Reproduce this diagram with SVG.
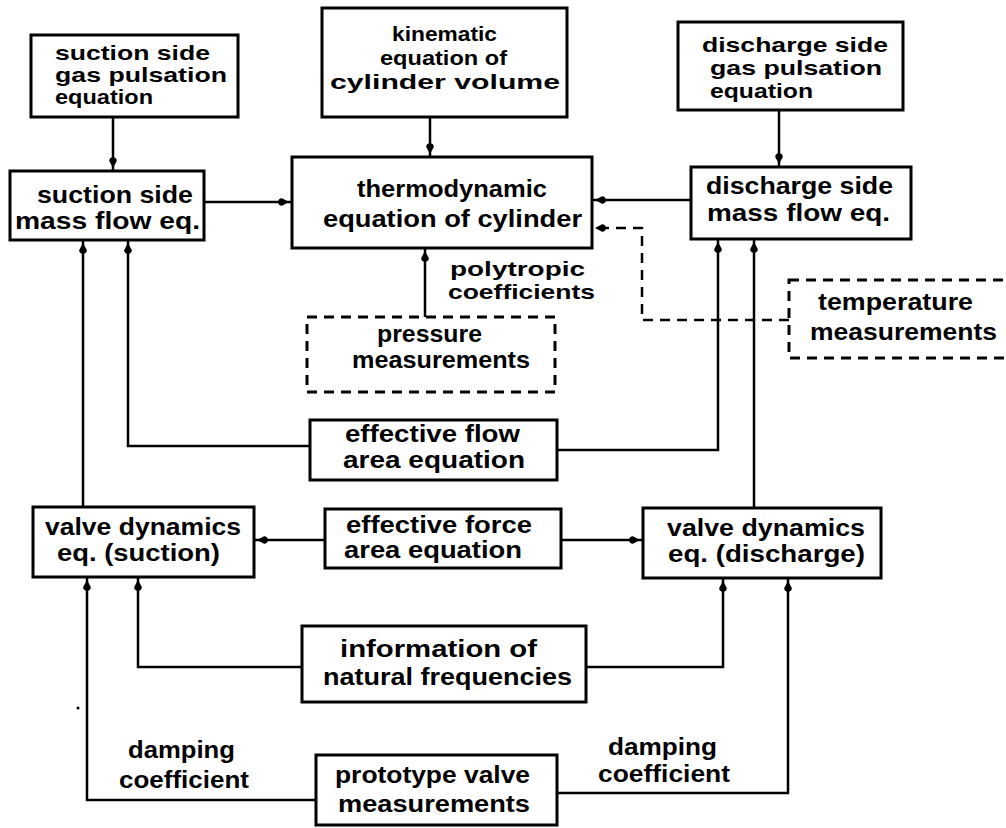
<svg xmlns="http://www.w3.org/2000/svg" width="1006" height="828" viewBox="0 0 1006 828">
<style>
.box{fill:#fff;stroke:#000;stroke-width:3}
.dbox{fill:#fff;stroke:#000;stroke-width:3;stroke-dasharray:10 7}
.c{fill:none;stroke:#000;stroke-width:2.5;marker-end:url(#ah)}
.cd{fill:none;stroke:#000;stroke-width:2.5;stroke-dasharray:10 7;marker-end:url(#ah)}
text{font-family:"Liberation Sans",Arial,sans-serif;font-weight:bold;font-size:23px;fill:#000}
.s{font-size:21px}
</style>
<defs>
<marker id="ah" markerUnits="userSpaceOnUse" markerWidth="16" markerHeight="10" viewBox="0 0 16 10" refX="16" refY="5" orient="auto">
<path d="M13,5 L6,1.2 A3.8,3.8 0 0 0 6,8.8 Z" fill="#000"/>
</marker>
</defs>
<rect width="1006" height="828" fill="#fff"/>
<g id="connectors">
<path class="c" d="M113,117 V171"/>
<path class="c" d="M430,117 V157"/>
<path class="c" d="M779,110 V167"/>
<path class="c" d="M204,202 H292"/>
<path class="c" d="M691,200 H592"/>
<path class="cd" d="M789,320 H642 V228 H592"/>
<path class="c" d="M425,317 V248"/>
<path class="c" d="M310,446 H128 V240"/>
<path class="c" d="M557,450 H718 V239"/>
<path class="c" d="M83,507 V240"/>
<path class="c" d="M754,508 V239"/>
<path class="c" d="M325,540 H254"/>
<path class="c" d="M561,540 H643"/>
<path class="c" d="M302,667 H138 V577"/>
<path class="c" d="M586,667 H723 V578"/>
<path class="c" d="M316,800 H87 V577"/>
<path class="c" d="M557,793 H788 V578"/>
</g>
<g id="suction-gas-pulsation">
<rect class="box" x="31" y="35" width="207" height="82"/>
<text class="s" x="55" y="60" textLength="155" lengthAdjust="spacingAndGlyphs">suction side</text>
<text class="s" x="55" y="82" textLength="172" lengthAdjust="spacingAndGlyphs">gas pulsation</text>
<text class="s" x="55" y="104" textLength="98" lengthAdjust="spacingAndGlyphs">equation</text>
</g>
<g id="kinematic">
<rect class="box" x="322" y="8" width="245" height="109"/>
<text class="s" x="392" y="41" textLength="105" lengthAdjust="spacingAndGlyphs">kinematic</text>
<text class="s" x="380" y="65" textLength="127" lengthAdjust="spacingAndGlyphs">equation of</text>
<text class="s" x="330" y="89" textLength="230" lengthAdjust="spacingAndGlyphs">cylinder volume</text>
</g>
<g id="discharge-gas-pulsation">
<rect class="box" x="678" y="22" width="225" height="88"/>
<text class="s" x="702" y="52" textLength="186" lengthAdjust="spacingAndGlyphs">discharge side</text>
<text class="s" x="710" y="75" textLength="172" lengthAdjust="spacingAndGlyphs">gas pulsation</text>
<text class="s" x="710" y="98" textLength="103" lengthAdjust="spacingAndGlyphs">equation</text>
</g>
<g id="suction-mass-flow">
<rect class="box" x="10" y="171" width="194" height="69"/>
<text x="37" y="203" textLength="156" lengthAdjust="spacingAndGlyphs">suction side</text>
<text x="15" y="229" textLength="185" lengthAdjust="spacingAndGlyphs">mass flow eq.</text>
</g>
<g id="thermodynamic">
<rect class="box" x="292" y="157" width="300" height="91"/>
<text x="357" y="197" textLength="190" lengthAdjust="spacingAndGlyphs">thermodynamic</text>
<text x="323" y="227" textLength="259" lengthAdjust="spacingAndGlyphs">equation of cylinder</text>
</g>
<g id="discharge-mass-flow">
<rect class="box" x="691" y="167" width="220" height="72"/>
<text x="706" y="194" textLength="187" lengthAdjust="spacingAndGlyphs">discharge side</text>
<text x="707" y="221" textLength="183" lengthAdjust="spacingAndGlyphs">mass flow eq.</text>
</g>
<g id="polytropic-label">
<text class="s" x="450" y="276" textLength="135" lengthAdjust="spacingAndGlyphs">polytropic</text>
<text class="s" x="448" y="299" textLength="147" lengthAdjust="spacingAndGlyphs">coefficients</text>
</g>
<g id="pressure-measurements">
<rect class="dbox" x="307" y="317" width="248" height="75"/>
<text x="377" y="342" textLength="105" lengthAdjust="spacingAndGlyphs">pressure</text>
<text x="352" y="368" textLength="178" lengthAdjust="spacingAndGlyphs">measurements</text>
</g>
<g id="temperature-measurements">
<rect class="dbox" x="789" y="280" width="230" height="78"/>
<text x="818" y="310" textLength="155" lengthAdjust="spacingAndGlyphs">temperature</text>
<text x="810" y="340" textLength="187" lengthAdjust="spacingAndGlyphs">measurements</text>
</g>
<g id="effective-flow-area">
<rect class="box" x="310" y="420" width="247" height="60"/>
<text x="345" y="442" textLength="175" lengthAdjust="spacingAndGlyphs">effective flow</text>
<text x="343" y="468" textLength="182" lengthAdjust="spacingAndGlyphs">area equation</text>
</g>
<g id="valve-suction">
<rect class="box" x="33" y="507" width="221" height="70"/>
<text x="45" y="535" textLength="196" lengthAdjust="spacingAndGlyphs">valve dynamics</text>
<text x="57" y="561" textLength="163" lengthAdjust="spacingAndGlyphs">eq. (suction)</text>
</g>
<g id="effective-force-area">
<rect class="box" x="325" y="509" width="236" height="59"/>
<text x="346" y="533" textLength="186" lengthAdjust="spacingAndGlyphs">effective force</text>
<text x="344" y="558" textLength="178" lengthAdjust="spacingAndGlyphs">area equation</text>
</g>
<g id="valve-discharge">
<rect class="box" x="643" y="508" width="238" height="70"/>
<text x="667" y="536" textLength="198" lengthAdjust="spacingAndGlyphs">valve dynamics</text>
<text x="668" y="562" textLength="197" lengthAdjust="spacingAndGlyphs">eq. (discharge)</text>
</g>
<g id="natural-frequencies">
<rect class="box" x="302" y="626" width="284" height="76"/>
<text x="340" y="657" textLength="197" lengthAdjust="spacingAndGlyphs">information  of</text>
<text x="323" y="685" textLength="249" lengthAdjust="spacingAndGlyphs">natural frequencies</text>
</g>
<g id="prototype-valve">
<rect class="box" x="316" y="755" width="241" height="70"/>
<text x="335" y="783" textLength="195" lengthAdjust="spacingAndGlyphs">prototype valve</text>
<text x="338" y="812" textLength="192" lengthAdjust="spacingAndGlyphs">measurements</text>
</g>
<g id="damping-left">
<text x="128" y="758" textLength="107" lengthAdjust="spacingAndGlyphs">damping</text>
<text x="119" y="788" textLength="130" lengthAdjust="spacingAndGlyphs">coefficient</text>
</g>
<g id="damping-right">
<text x="608" y="755" textLength="109" lengthAdjust="spacingAndGlyphs">damping</text>
<text x="598" y="782" textLength="132" lengthAdjust="spacingAndGlyphs">coefficient</text>
</g>
<circle cx="78" cy="708" r="1.5" fill="#000"/>
</svg>
